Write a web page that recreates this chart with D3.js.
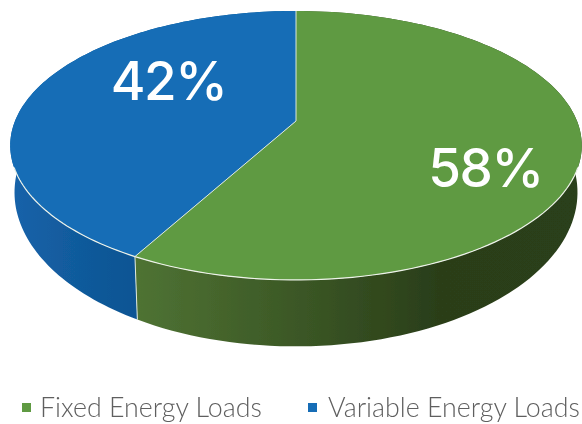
<!DOCTYPE html>
<html>
<head>
<meta charset="utf-8">
<script src="https://cdn.jsdelivr.net/npm/d3@7"></script>
<style>
    html, body { margin: 0; padding: 0; background: #fff; }
    svg { display: block; }
</style>
</head>
<body>
<div id="chart"></div>
<script>
const categories = ["Fixed Energy Loads", "Variable Energy Loads"]
const shares = [58, 42]
const topColors = ["#5f9a43", "#136db6"]
const wallStops = [
    ["#4f7333", "#3d5a27", "#2a3e19", "#2b3f1a"],
    ["#1763aa", "#125c9f", "#0f5897", "#0c5494"]
]

const width = 582
const height = 424
const svg = d3.select("#chart").append("svg").attr("width", width).attr("height", height)
const defs = svg.append("defs")

defs.append("filter").attr("id", "soft")
    .append("feGaussianBlur").attr("stdDeviation", 0.4)

// tilted disc: unit circle through a perspective projection
const persp = -0.182
const xReach = 281
const centerX = 296
const centerY = 121
const yReach = 108

// lower plane of the disc, sits a bit narrower and taller than the top
const lowerXScale = 0.985
const lowerYScale = 1.145
const lowerYShift = 193 - 146 * lowerYScale
const rimStartY = 167

function project(angle, lower) {
    const u = Math.sin(angle)
    const v = -Math.cos(angle)
    const w = 1 + persp * v
    const x = xReach * u / w
    const y = (centerY + yReach * v) / w
    return lower
        ? [centerX + x * lowerXScale, y * lowerYScale + lowerYShift]
        : [centerX + x, y]
}

const slices = d3.pie().sort(null).value((d) => d)(shares)
const line = d3.line()

function arcPoints(slice, lower) {
    const steps = d3.range(0, 121).map((i) => slice.startAngle + (slice.endAngle - slice.startAngle) * i / 120)
    return steps.map((a) => project(a, lower))
}

slices.forEach((slice, i) => {
    const stops = wallStops[i]
    const xRange = i === 0 ? [135, 582] : [10, 137]
    const xOffsets = i === 0 ? [0, 0.33, 0.68, 1] : [0, 0.4, 0.75, 1]
    const grad = defs.append("linearGradient")
        .attr("id", `wall-${i}`)
        .attr("gradientUnits", "userSpaceOnUse")
        .attr("x1", xRange[0]).attr("x2", xRange[1])
        .attr("y1", 0).attr("y2", 0)
    grad.selectAll("stop").data(stops).join("stop")
        .attr("offset", (d, j) => xOffsets[j])
        .attr("stop-color", (d) => d)
})

const pieGroup = svg.append("g").attr("filter", "url(#soft)")
const walls = pieGroup.append("g")
const tops = pieGroup.append("g")
const rims = pieGroup.append("g")

slices.forEach((slice, i) => {
    const upper = arcPoints(slice, false)
    const lower = arcPoints(slice, true).reverse()
    walls.append("path")
        .attr("d", line(upper.concat(lower)) + "Z")
        .attr("fill", `url(#wall-${i})`)

    tops.append("path")
        .attr("d", line([[centerX, centerY]].concat(upper)) + "Z")
        .attr("fill", topColors[i])

    // pale edge only on the front of the rim
    rims.append("path")
        .attr("d", line(upper.filter((p) => p[1] > rimStartY)))
        .attr("fill", "none")
        .attr("stroke", "#eef3ea")
        .attr("stroke-width", 1.2)
})

// slice edges from the centre, plus the seam down the wall
slices.forEach((slice) => {
    const edge = project(slice.startAngle, false)
    rims.append("path")
        .attr("d", line([[centerX, centerY], edge]))
        .attr("fill", "none")
        .attr("stroke", "#dfe8da")
        .attr("stroke-width", 1)
})
rims.append("path")
    .attr("d", line([project(slices[1].startAngle, false), project(slices[1].startAngle, true)]))
    .attr("fill", "none")
    .attr("stroke", "#dfe8da")
    .attr("stroke-width", 1)

const labelX = d3.scaleOrdinal().domain(categories).range([485.5, 168.5])
const labelY = d3.scaleOrdinal().domain(categories).range([187, 100])

const textGroup = svg.append("g").attr("filter", "url(#soft)")

textGroup.selectAll("text.share")
    .data(shares)
    .join("text")
    .attr("class", "share")
    .attr("x", (d, i) => labelX(categories[i]))
    .attr("y", (d, i) => labelY(categories[i]))
    .attr("text-anchor", "middle")
    .attr("font-family", "Inter, sans-serif")
    .attr("font-weight", 500)
    .attr("font-size", 53)
    .attr("letter-spacing", -1.5)
    .attr("fill", "#fff")
    .text((d) => `${d}%`)

const legendX = d3.scaleOrdinal().domain(categories).range([22, 308])
const legendTextX = d3.scaleOrdinal().domain(categories).range([18, 20])
const legend = textGroup.selectAll("g.legend")
    .data(categories)
    .join("g")
    .attr("class", "legend")
    .attr("transform", (d) => `translate(${legendX(d)},0)`)

legend.append("rect")
    .attr("x", 0).attr("y", 403)
    .attr("width", 9).attr("height", 9)
    .attr("fill", (d, i) => topColors[i])

legend.append("text")
    .attr("x", (d) => legendTextX(d)).attr("y", 417)
    .attr("font-family", "Lato, sans-serif")
    .attr("font-weight", 300)
    .attr("font-size", 26.8)
    .attr("fill", "#5f5f5f")
    .text((d) => d)
</script>
</body>
</html>
